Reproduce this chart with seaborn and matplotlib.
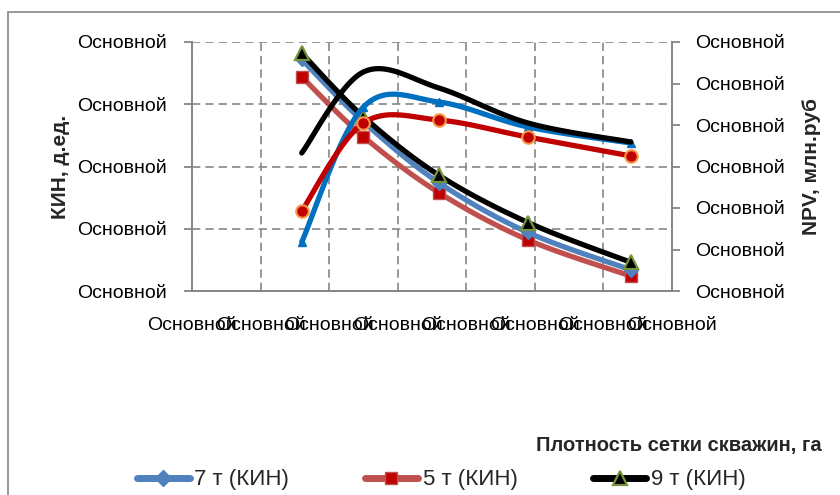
import numpy as np
import seaborn as sns
import matplotlib.pyplot as plt
from matplotlib.lines import Line2D
from matplotlib.patches import Rectangle

# плотность сетки скважин, га
density = [16, 25, 36, 49, 64]

# КИН, д.ед.
kin_7 = [0.486, 0.436, 0.387, 0.347, 0.317]
kin_5 = [0.472, 0.424, 0.379, 0.341, 0.312]
kin_9 = [0.491, 0.440, 0.393, 0.355, 0.323]

# NPV, млн.руб
npv_7 = [590, 2217, 2277, 1976, 1783]
npv_5 = [964, 2024, 2060, 1855, 1627]
npv_9 = [1663, 2639, 2446, 2024, 1795]

x_ticks = [0, 10, 20, 30, 40, 50, 60, 70]
kin_ticks = [0.30, 0.35, 0.40, 0.45, 0.50]
npv_ticks = [0, 500, 1000, 1500, 2000, 2500, 3000]
tick_text = 'Основной'  # Excel вывел имя формата вместо чисел

legend_labels = ['7 т (КИН)', '5 т (КИН)', '9 т (КИН)']

GRAY = '#868686'


def smooth(x, y, n=30):
    """Сглаженная линия как в Excel (Катмулл-Ром через Безье)."""
    pts = np.column_stack([x, y]).astype(float)
    pts = np.vstack([pts[:1], pts, pts[-1:]])
    t = np.linspace(0, 1, n)[:, None]
    out = []
    for i in range(1, len(pts) - 2):
        p0, p1, p2, p3 = pts[i - 1], pts[i], pts[i + 1], pts[i + 2]
        c1 = p1 + (p2 - p0) / 6
        c2 = p2 - (p3 - p1) / 6
        seg = ((1 - t) ** 3 * p1 + 3 * (1 - t) ** 2 * t * c1
               + 3 * (1 - t) * t ** 2 * c2 + t ** 3 * p2)
        out.append(seg if i == 1 else seg[1:])
    out = np.vstack(out)
    return out[:, 0], out[:, 1]


def draw(ax, x, y, color, marker=None, mfc=None, mec=None, ms=8, mew=1.5):
    xs, ys = smooth(x, y)
    sns.lineplot(x=xs, y=ys, ax=ax, color=color, linewidth=3.8,
                 sort=False, estimator=None, solid_capstyle='round')
    if marker:
        ax.plot(x, y, linestyle='none', marker=marker, markersize=ms,
                markerfacecolor=mfc, markeredgecolor=mec, markeredgewidth=mew)


sns.set_style('white')
plt.rcParams['font.family'] = ['Liberation Sans', 'DejaVu Sans']

fig = plt.figure(figsize=(8.4, 4.95), dpi=100)
ax = fig.add_axes([192 / 840, 1 - 291 / 495, 480 / 840, 249 / 495])
ax2 = ax.twinx()

# КИН
draw(ax, density, kin_5, '#C0504D', 's', '#C00000', '#C0504D', ms=8.5, mew=1)
draw(ax, density, kin_7, '#4F81BD', 'D', '#4F81BD', '#4F81BD', ms=7, mew=1)
draw(ax, density, kin_9, 'black', '^', 'black', '#77933C', ms=10, mew=1.6)

# NPV
draw(ax2, density, npv_7, '#0070C0', '^', '#0070C0', '#0070C0', ms=6, mew=1)
draw(ax2, density, npv_5, '#C00000', 'o', '#C00000', '#F79646', ms=9, mew=1.5)
draw(ax2, density, npv_9, 'black')

ax.set_xlim(0, 70)
ax.set_ylim(0.30, 0.50)
ax2.set_ylim(0, 3000)

ax.set_xticks(x_ticks)
ax.set_xticklabels([tick_text] * len(x_ticks))
ax.set_yticks(kin_ticks)
ax.set_yticklabels([tick_text] * len(kin_ticks))
ax2.set_yticks(npv_ticks)
ax2.set_yticklabels([tick_text] * len(npv_ticks))

ax.grid(True, color=GRAY, linestyle=(0, (5, 3)), linewidth=1.2)
ax2.grid(False)

for a in (ax, ax2):
    a.spines['top'].set_visible(False)
    for s in ('left', 'right', 'bottom'):
        a.spines[s].set_color(GRAY)
        a.spines[s].set_linewidth(1.3)
    a.tick_params(axis='both', colors=GRAY, labelcolor='black',
                  labelsize=14, length=6, width=1.3, direction='out')
ax.tick_params(axis='x', pad=13)
ax.tick_params(axis='y', pad=12)
ax2.tick_params(axis='y', pad=11)

ax.set_ylabel('КИН, д.ед.', fontsize=15, fontweight='bold')
ax.yaxis.set_label_coords(-0.255, 0.5)
ax2.set_ylabel('NPV, млн.руб', fontsize=15, fontweight='bold')
ax2.yaxis.set_label_coords(1.27, 0.5)

fig.text(822 / 840, 1 - 446 / 495, 'Плотность сетки скважин, га',
         ha='right', va='center', fontsize=14.5, fontweight='bold')

# рамка области диаграммы
fig.patches.append(Rectangle((8 / 840, -0.1), 1.2, 1.1 - 12 / 495,
                             transform=fig.transFigure, fill=False,
                             edgecolor=GRAY, linewidth=1.2))

handles = [
    Line2D([], [], color='#4F81BD', lw=5, marker='D', ms=8,
           mfc='#4F81BD', mec='#4F81BD', solid_capstyle='round'),
    Line2D([], [], color='#C0504D', lw=5, marker='s', ms=9,
           mfc='#C00000', mec='#C0504D', solid_capstyle='round'),
    Line2D([], [], color='black', lw=5, marker='^', ms=10,
           mfc='black', mec='#77933C', mew=1.6, solid_capstyle='round'),
]
fig.legend(handles, legend_labels, ncol=3, loc='center',
           bbox_to_anchor=(441 / 840, 1 - 480 / 495), frameon=False,
           fontsize=16, handlelength=2.4, handletextpad=0.2,
           columnspacing=3.4)

fig.savefig('out.png', dpi=100)
